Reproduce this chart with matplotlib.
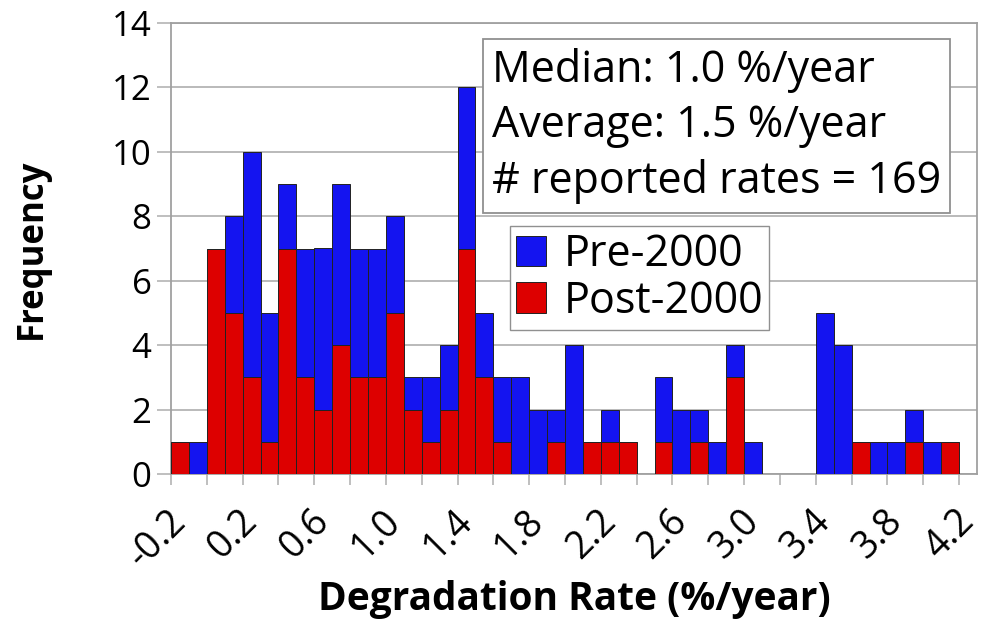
import matplotlib

matplotlib.use("Agg")
import matplotlib.pyplot as plt
import numpy as np

# bin centres (%/year), one bin per 0.1
rates = [round(-0.2 + 0.1 * i, 1) for i in range(45)]
post_2000 = [1, 0, 7, 5, 3, 1, 7, 3, 2, 4, 3, 3, 5, 2, 1, 2, 7, 3, 1, 0,
             0, 1, 0, 1, 1, 1, 0, 1, 0, 1, 0, 3, 0, 0, 0, 0, 0, 0, 1, 0,
             0, 1, 0, 1, 0]
pre_2000 = [0, 1, 0, 3, 7, 4, 2, 4, 5, 5, 4, 4, 3, 1, 2, 2, 5, 2, 2, 3,
            2, 1, 4, 0, 1, 0, 0, 2, 2, 1, 1, 1, 1, 0, 0, 0, 5, 4, 0, 1,
            1, 1, 1, 0, 0]
label_rates = [-0.2, 0.2, 0.6, 1.0, 1.4, 1.8, 2.2, 2.6, 3.0, 3.4, 3.8, 4.2]
stats_lines = ["Median: 1.0 %/year", "Average: 1.5 %/year", "# reported rates = 169"]

plt.rcParams["font.family"] = ["Open Sans", "DejaVu Sans"]

fig = plt.figure(figsize=(9.81, 6.25), dpi=100)
ax = fig.add_axes([0.1743, 0.2416, 0.8216, 0.7216])

ax.bar(rates, post_2000, width=0.1, color="#DD0000", edgecolor="#222222",
       linewidth=0.7, label="Post-2000", zorder=3)
ax.bar(rates, pre_2000, width=0.1, bottom=post_2000, color="#1414F0",
       edgecolor="#222222", linewidth=0.7, label="Pre-2000", zorder=3)

ax.set_xlim(-0.25, 4.25)
ax.set_ylim(0, 14)
ax.set_yticks(np.arange(0, 15, 2))
ax.yaxis.grid(True, color="#b4b4b4", linewidth=1.3, zorder=0)

ax.set_xticks(label_rates)
ax.set_xticklabels([f"{v:.1f}" for v in label_rates], rotation=45,
                   ha="right", va="center", rotation_mode="anchor")
ax.set_xticks(np.arange(-0.25, 4.2, 0.2), minor=True)
ax.tick_params(axis="x", which="major", length=0, pad=30, labelsize=27)
ax.tick_params(axis="x", which="minor", length=8, color="#b4b4b4", width=1.2)
ax.tick_params(axis="y", length=10, color="#b4b4b4", width=1.2, pad=4,
               labelsize=25)

for side in ["left", "right", "top", "bottom"]:
    ax.spines[side].set_color("#a0a0a0")
    ax.spines[side].set_linewidth(1.3)

ax.set_ylabel("Frequency", fontsize=25, fontweight="bold")
ax.yaxis.set_label_coords(-0.15, 0.5)
ax.set_xlabel("Degradation Rate (%/year)", fontsize=28, fontweight="bold")
ax.xaxis.set_label_coords(0.5, -0.235)

ax.text(0.398, 0.945, "\n".join(stats_lines), transform=ax.transAxes,
        fontsize=31, va="top", ha="left", linespacing=1.32, zorder=5,
        bbox=dict(boxstyle="square,pad=0.2", facecolor="white",
                  edgecolor="#909090", linewidth=1.3))

handles, labels = ax.get_legend_handles_labels()
ax.legend(handles[::-1], labels[::-1], loc="upper left",
          bbox_to_anchor=(0.42, 0.55), fontsize=31, frameon=True,
          fancybox=False, edgecolor="#909090", framealpha=1,
          handlelength=0.7, handleheight=0.7, handletextpad=0.4,
          labelspacing=0.05, borderpad=0.15, borderaxespad=0)

fig.savefig("out.png", dpi=100)
